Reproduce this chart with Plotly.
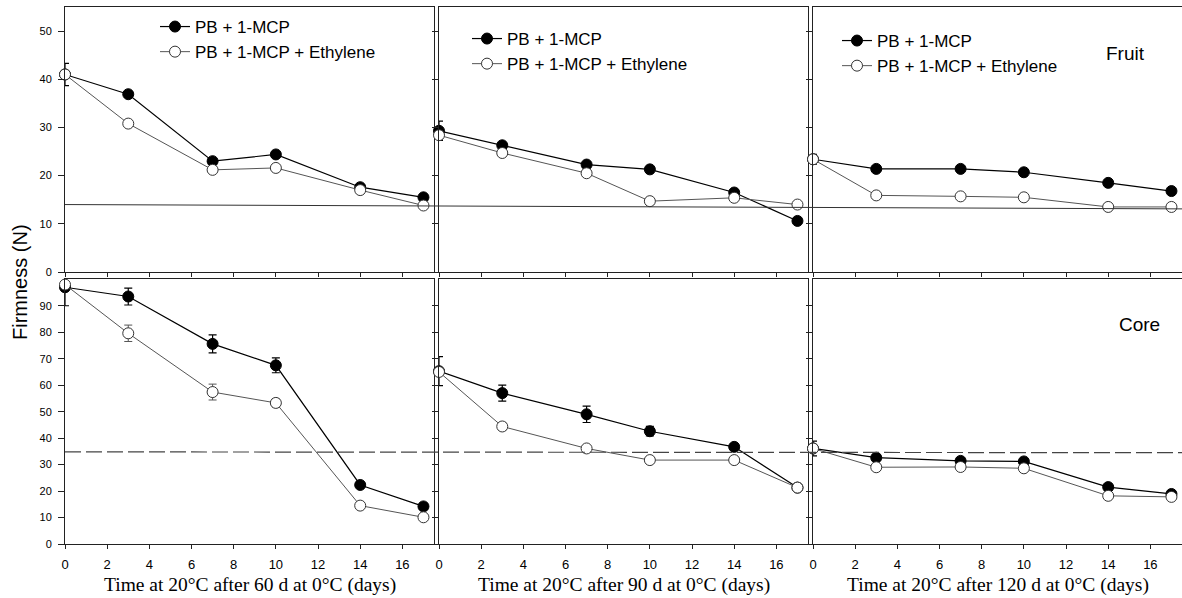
import plotly.graph_objects as go

# ---------------- data ----------------
days = [0, 3, 7, 10, 14, 17]
storage_days = [60, 90, 120]
series_names = ["PB + 1-MCP", "PB + 1-MCP + Ethylene"]

# Fruit firmness (N)
fruit_60_mcp = [41.0, 36.9, 23.0, 24.4, 17.6, 15.5]
fruit_60_eth = [41.0, 30.8, 21.2, 21.6, 17.0, 13.8]
fruit_90_mcp = [29.3, 26.3, 22.3, 21.3, 16.5, 10.6]
fruit_90_eth = [28.4, 24.7, 20.5, 14.7, 15.4, 14.0]
fruit_120_mcp = [23.4, 21.4, 21.4, 20.7, 18.5, 16.8]
fruit_120_eth = [23.4, 15.9, 15.7, 15.5, 13.5, 13.5]

fruit_60_mcp_err = [2.3, 0.6, 0.5, 0.6, 0.5, 0.5]
fruit_60_eth_err = [0.8, 0.5, 0.5, 0.5, 0.5, 0.5]
fruit_90_mcp_err = [2.0, 0.6, 0.5, 0.5, 0.5, 0.5]
fruit_90_eth_err = [0.8, 0.5, 0.5, 0.5, 0.5, 0.5]
fruit_120_mcp_err = [1.0, 0.5, 0.5, 0.5, 0.5, 0.5]
fruit_120_eth_err = [0.8, 0.5, 0.5, 0.5, 0.5, 0.5]

# Core firmness (N)
core_60_mcp = [97.0, 93.5, 75.6, 67.5, 22.3, 14.2]
core_60_eth = [98.0, 79.6, 57.4, 53.3, 14.5, 10.1]
core_90_mcp = [65.3, 57.0, 49.0, 42.6, 36.7, 21.3]
core_90_eth = [65.0, 44.4, 36.1, 31.7, 31.7, 21.3]
core_120_mcp = [36.1, 32.6, 31.4, 31.2, 21.5, 18.9]
core_120_eth = [36.1, 29.0, 29.1, 28.6, 18.2, 17.8]

core_60_mcp_err = [7.0, 3.2, 3.4, 2.8, 1.0, 1.2]
core_60_eth_err = [1.0, 3.1, 3.0, 1.5, 0.8, 0.8]
core_90_mcp_err = [5.5, 3.0, 3.1, 1.8, 1.2, 0.8]
core_90_eth_err = [1.0, 1.5, 1.0, 0.8, 0.8, 0.8]
core_120_mcp_err = [2.8, 1.0, 1.0, 1.0, 1.0, 1.0]
core_120_eth_err = [1.0, 0.8, 0.8, 0.8, 0.8, 0.8]

# reference lines (value at left edge, value at right edge)
fruit_threshold = [14.0, 13.1]
core_threshold = [34.8, 34.5]

x_ticks = [0, 2, 4, 6, 8, 10, 12, 14, 16]
fruit_y_ticks = [0, 10, 20, 30, 40, 50]
core_y_ticks = [0, 10, 20, 30, 40, 50, 60, 70, 80, 90]
x_range = [0, 17.5]
fruit_range = [0, 55]
core_range = [0, 100]

panel_label_fruit = "Fruit"
panel_label_core = "Core"
y_title = "Firmness (N)"

# ---------------- layout geometry ----------------
W, H = 1182, 598
ML, MR, MT, MB = 65, 0, 7, 54
PW = W - ML - MR
PH = H - MT - MB
x_domains = [[0, 369 / PW], [374 / PW, 743 / PW], [748 / PW, 1.0]]
top_domain = [(H - MB - 272) / PH, 1.0]
bot_domain = [0.0, (H - MB - 279.3) / PH]

SANS = "Liberation Sans, Arial, sans-serif"
SERIF = "Liberation Serif, Times New Roman, serif"

fruit_data = [
    (fruit_60_mcp, fruit_60_mcp_err, fruit_60_eth, fruit_60_eth_err),
    (fruit_90_mcp, fruit_90_mcp_err, fruit_90_eth, fruit_90_eth_err),
    (fruit_120_mcp, fruit_120_mcp_err, fruit_120_eth, fruit_120_eth_err),
]
core_data = [
    (core_60_mcp, core_60_mcp_err, core_60_eth, core_60_eth_err),
    (core_90_mcp, core_90_mcp_err, core_90_eth, core_90_eth_err),
    (core_120_mcp, core_120_mcp_err, core_120_eth, core_120_eth_err),
]

fig = go.Figure()
legend_ids = ["legend", "legend2", "legend3"]


def add_pair(vals, xa, ya, legend_id, show):
    mcp, mcp_err, eth, eth_err = vals
    fig.add_trace(go.Scatter(
        x=days, y=mcp, name=series_names[0], mode="lines+markers",
        xaxis=xa, yaxis=ya, legend=legend_id, showlegend=show,
        cliponaxis=False,
        line=dict(color="#000000", width=1.2),
        marker=dict(symbol="circle", size=11, color="#000000",
                    line=dict(color="#000000", width=1)),
        error_y=dict(type="data", array=mcp_err, color="#000000",
                     thickness=1.2, width=4),
    ))
    fig.add_trace(go.Scatter(
        x=days, y=eth, name=series_names[1], mode="lines+markers",
        xaxis=xa, yaxis=ya, legend=legend_id, showlegend=show,
        cliponaxis=False,
        line=dict(color="#555555", width=1),
        marker=dict(symbol="circle", size=11, color="#ffffff",
                    line=dict(color="#333333", width=1)),
        error_y=dict(type="data", array=eth_err, color="#555555",
                     thickness=1, width=4),
    ))


for i in range(3):
    n_top = i + 1
    n_bot = i + 4
    xa_t = "x" if n_top == 1 else f"x{n_top}"
    ya_t = "y" if n_top == 1 else f"y{n_top}"
    add_pair(fruit_data[i], xa_t, ya_t, legend_ids[i], True)
    add_pair(core_data[i], f"x{n_bot}", f"y{n_bot}", legend_ids[i], False)

axis_common = dict(
    showline=True, linecolor="#222222", linewidth=1, mirror=True,
    showgrid=False, zeroline=False, ticks="outside", tickcolor="#222222",
)

layout = dict(
    width=W, height=H,
    margin=dict(l=ML, r=MR, t=MT, b=MB),
    paper_bgcolor="white", plot_bgcolor="white",
    font=dict(family=SANS, color="#000000"),
)

for i in range(3):
    n_top = i + 1
    n_bot = i + 4
    kx_t = "xaxis" if n_top == 1 else f"xaxis{n_top}"
    ky_t = "yaxis" if n_top == 1 else f"yaxis{n_top}"
    ya_t = "y" if n_top == 1 else f"y{n_top}"
    xa_t = "x" if n_top == 1 else f"x{n_top}"
    layout[kx_t] = dict(axis_common, domain=x_domains[i], range=x_range,
                        anchor=ya_t, tickvals=x_ticks, showticklabels=False,
                        ticklen=4)
    layout[ky_t] = dict(axis_common, domain=top_domain, range=fruit_range,
                        anchor=xa_t, tickvals=fruit_y_ticks,
                        showticklabels=(i == 0), ticklen=6,
                        tickfont=dict(size=11, family=SANS),
                        ticklabelstandoff=4)
    layout[f"xaxis{n_bot}"] = dict(axis_common, domain=x_domains[i], range=x_range,
                                   anchor=f"y{n_bot}", tickvals=x_ticks,
                                   showticklabels=True, ticklen=4,
                                   tickfont=dict(size=13, family=SANS),
                                   ticklabelstandoff=4)
    layout[f"yaxis{n_bot}"] = dict(axis_common, domain=bot_domain, range=core_range,
                                   anchor=f"x{n_bot}", tickvals=core_y_ticks,
                                   showticklabels=(i == 0), ticklen=6,
                                   tickfont=dict(size=11, family=SANS),
                                   ticklabelstandoff=4)

# legends (one per top panel)
legend_pos = [((155 - ML) / PW, 1 - (9 - MT) / PH),
              ((467 - ML) / PW, 1 - (21 - MT) / PH),
              ((837 - ML) / PW, 1 - (23 - MT) / PH)]
for lid, (lx, ly) in zip(legend_ids, legend_pos):
    layout[lid] = dict(x=lx, y=ly, xanchor="left", yanchor="top",
                       bgcolor="rgba(0,0,0,0)", borderwidth=0,
                       font=dict(family=SANS, size=17, color="#000000"),
                       tracegroupgap=0)

fig.update_layout(**layout)

# reference lines
fig.add_shape(type="line", xref="paper", yref="y",
              x0=0, x1=1, y0=fruit_threshold[0], y1=fruit_threshold[1],
              line=dict(color="#333333", width=1))
fig.add_shape(type="line", xref="paper", yref="y4",
              x0=0, x1=1, y0=core_threshold[0], y1=core_threshold[1],
              line=dict(color="#444444", width=1.2, dash="16px,5px"))

# annotations
fig.add_annotation(text=panel_label_fruit, xref="paper", yref="paper",
                   x=(1125.5 - ML) / PW, y=(H - MB - 54) / PH,
                   xanchor="center", yanchor="middle",
                   showarrow=False, font=dict(family=SANS, size=19))
fig.add_annotation(text=panel_label_core, xref="paper", yref="paper",
                   x=(1139.5 - ML) / PW, y=(H - MB - 324) / PH,
                   xanchor="center", yanchor="middle",
                   showarrow=False, font=dict(family=SANS, size=19))
fig.add_annotation(text=y_title, xref="paper", yref="paper",
                   x=(20 - ML) / PW, y=(H - MB - 282) / PH, textangle=-90,
                   xanchor="center", yanchor="middle",
                   showarrow=False, font=dict(family=SANS, size=20))
for i, d in enumerate(storage_days):
    fig.add_annotation(text=f"Time at 20°C after {d} d at 0°C (days)",
                       xref=f"x{i + 4} domain", yref="paper",
                       x=0.5, y=(H - MB - 585) / PH, showarrow=False,
                       xanchor="center", yanchor="middle",
                       font=dict(family=SERIF, size=19.5))

fig.write_html("out.html")
